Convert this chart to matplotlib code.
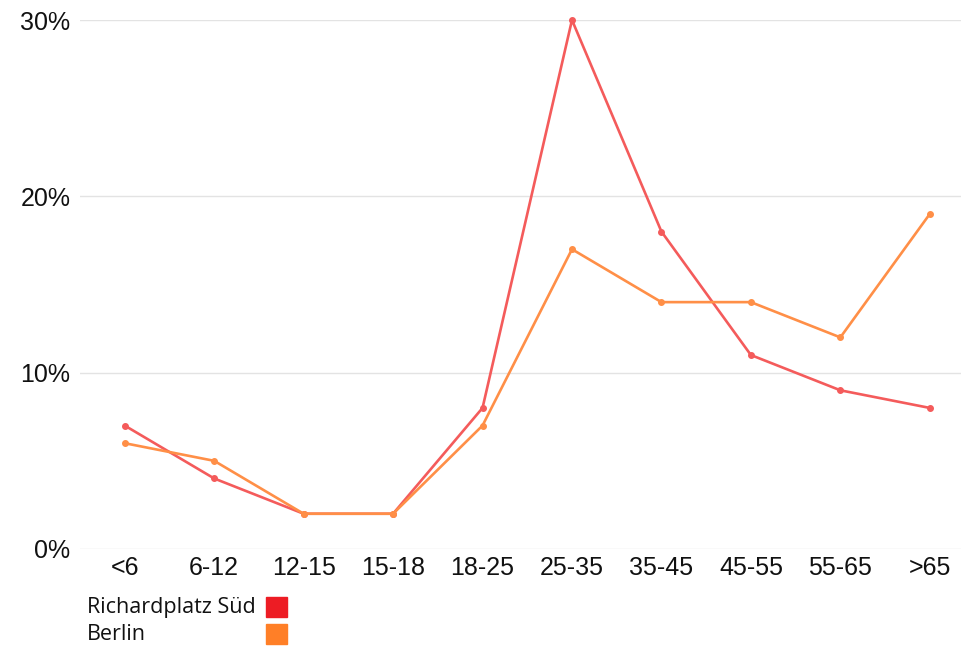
import matplotlib.pyplot as plt
from matplotlib.patches import Rectangle
from matplotlib.ticker import FuncFormatter

# age groups and share of population (%)
AGE_GROUPS = ['<6', '6-12', '12-15', '15-18', '18-25', '25-35', '35-45', '45-55', '55-65', '>65']
RICHARDPLATZ = [7, 4, 2, 2, 8, 30, 18, 11, 9, 8]
BERLIN = [6, 5, 2, 2, 7, 17, 14, 14, 12, 19]
SERIES_NAMES = ['Richardplatz Süd', 'Berlin']
LINE_COLORS = ['#f45b5b', '#ff8f47']
LEGEND_COLORS = ['#ed1c24', '#ff7f27']
Y_TICKS = [0, 10, 20, 30]

plt.rcParams['font.family'] = ['Liberation Sans', 'DejaVu Sans']

fig = plt.figure(figsize=(9.62, 6.46), dpi=100)
ax = fig.add_axes([80 / 962, 1 - 549 / 646, 1 - 80 / 962, (549 - 20) / 646])

x = range(len(AGE_GROUPS))
for vals, col in zip([RICHARDPLATZ, BERLIN], LINE_COLORS):
    ax.plot(x, vals, color=col, lw=1.9, marker='o', ms=4, clip_on=False, zorder=3)

ax.set_xlim(-0.5, 9.36)
ax.set_ylim(0, 30)
ax.set_xticks(list(x))
ax.set_xticklabels(AGE_GROUPS)
ax.set_yticks(Y_TICKS)
ax.yaxis.set_major_formatter(FuncFormatter(lambda v, p: f'{v:.0f}%'))
ax.tick_params(length=0, labelsize=18, colors='#111111')
ax.tick_params(axis='y', pad=7)
ax.tick_params(axis='x', pad=5)
ax.grid(axis='y', color='#e3e3e3', lw=1)
ax.set_axisbelow(True)
for s in ax.spines.values():
    s.set_visible(False)

# legend: names on the left, colour squares on the right
for i, (name, col) in enumerate(zip(SERIES_NAMES, LEGEND_COLORS)):
    yc = 607 + i * 27
    fig.text(87 / 962, 1 - yc / 646, name, fontsize=15.5, family=['Open Sans', 'DejaVu Sans'],
             va='center', ha='left', color='#111111')
    fig.patches.append(Rectangle((266 / 962, 1 - (yc + 10) / 646), 21 / 962, 20 / 646,
                                 transform=fig.transFigure, color=col, figure=fig))

fig.savefig('out.png', dpi=100)
